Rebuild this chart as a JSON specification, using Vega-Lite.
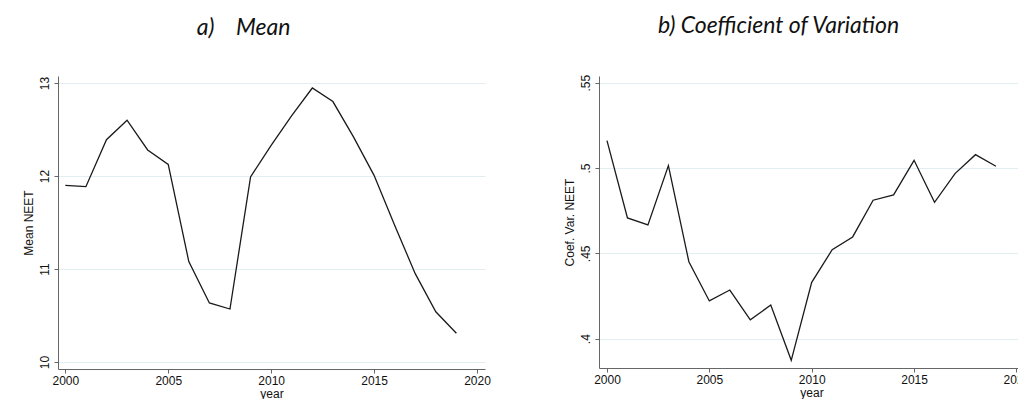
{
  "$schema": "https://vega.github.io/schema/vega-lite/v6.json",
  "background": "white",
  "padding": {"left": 22, "top": 15, "right": 0, "bottom": 0},
  "spacing": 72,
  "datasets": {
    "neet": [
      {"year": 2000, "mean": 11.90, "cv": 0.516},
      {"year": 2001, "mean": 11.885, "cv": 0.4707},
      {"year": 2002, "mean": 12.39, "cv": 0.4666},
      {"year": 2003, "mean": 12.60, "cv": 0.5014},
      {"year": 2004, "mean": 12.28, "cv": 0.4451},
      {"year": 2005, "mean": 12.125, "cv": 0.4221},
      {"year": 2006, "mean": 11.08, "cv": 0.4285},
      {"year": 2007, "mean": 10.635, "cv": 0.411},
      {"year": 2008, "mean": 10.57, "cv": 0.4197},
      {"year": 2009, "mean": 11.99, "cv": 0.3873},
      {"year": 2010, "mean": 12.33, "cv": 0.433},
      {"year": 2011, "mean": 12.65, "cv": 0.4521},
      {"year": 2012, "mean": 12.946, "cv": 0.4596},
      {"year": 2013, "mean": 12.80, "cv": 0.4811},
      {"year": 2014, "mean": 12.42, "cv": 0.4842},
      {"year": 2015, "mean": 12.007, "cv": 0.5045},
      {"year": 2016, "mean": 11.47, "cv": 0.4799},
      {"year": 2017, "mean": 10.95, "cv": 0.4967},
      {"year": 2018, "mean": 10.54, "cv": 0.5078},
      {"year": 2019, "mean": 10.31, "cv": 0.501}
    ]
  },
  "config": {
    "view": {"stroke": null},
    "font": "Liberation Sans",
    "title": {"font": "Lato", "fontStyle": "italic", "fontWeight": "normal", "fontSize": 23, "color": "#111"},
    "axis": {
      "labelFont": "Liberation Sans",
      "titleFont": "Liberation Sans",
      "labelFontSize": 12,
      "titleFontSize": 12,
      "titleFontWeight": "normal",
      "labelColor": "#111",
      "titleColor": "#111",
      "domainColor": "#666",
      "tickColor": "#666",
      "tickSize": 4,
      "labelPadding": 3
    }
  },
  "hconcat": [
    {
      "title": {"text": "a)\u00a0\u00a0\u00a0 Mean", "offset": 36, "dx": -28},
      "width": 427,
      "height": 293,
      "data": {"name": "neet"},
      "mark": {"type": "line", "color": "#1a1a1a", "strokeWidth": 1.3},
      "encoding": {
        "x": {
          "field": "year", "type": "quantitative",
          "scale": {"domain": [1999.645, 2020.39], "nice": false, "zero": false},
          "axis": {"values": [2000, 2005, 2010, 2015, 2020], "format": "d", "grid": false, "title": "year", "labelPadding": 2, "titlePadding": 2}
        },
        "y": {
          "field": "mean", "type": "quantitative",
          "scale": {"domain": [9.925, 13.075], "nice": false, "zero": false},
          "axis": {"values": [10, 11, 12, 13], "labelAngle": -90, "grid": true, "gridColor": "#e3eef1", "title": "Mean NEET", "titlePadding": 3}
        }
      }
    },
    {
      "title": {"text": "b) Coefficient of Variation", "offset": 36, "dx": -33},
      "width": 425,
      "height": 292,
      "data": {"name": "neet"},
      "mark": {"type": "line", "color": "#1a1a1a", "strokeWidth": 1.3},
      "encoding": {
        "x": {
          "field": "year", "type": "quantitative",
          "scale": {"domain": [1999.61, 2020.37], "nice": false, "zero": false},
          "axis": {"values": [2000, 2005, 2010, 2015, 2020], "format": "d", "grid": false, "title": "year", "labelPadding": 2, "titlePadding": 2}
        },
        "y": {
          "field": "cv", "type": "quantitative",
          "scale": {"domain": [0.3828, 0.5539], "nice": false, "zero": false},
          "axis": {"values": [0.4, 0.45, 0.5, 0.55], "labelExpr": "replace(format(datum.value, '.2~f'), '0.', '.')", "labelAngle": -90, "grid": true, "gridColor": "#e3eef1", "title": "Coef. Var. NEET", "titlePadding": 3}
        }
      }
    }
  ]
}
